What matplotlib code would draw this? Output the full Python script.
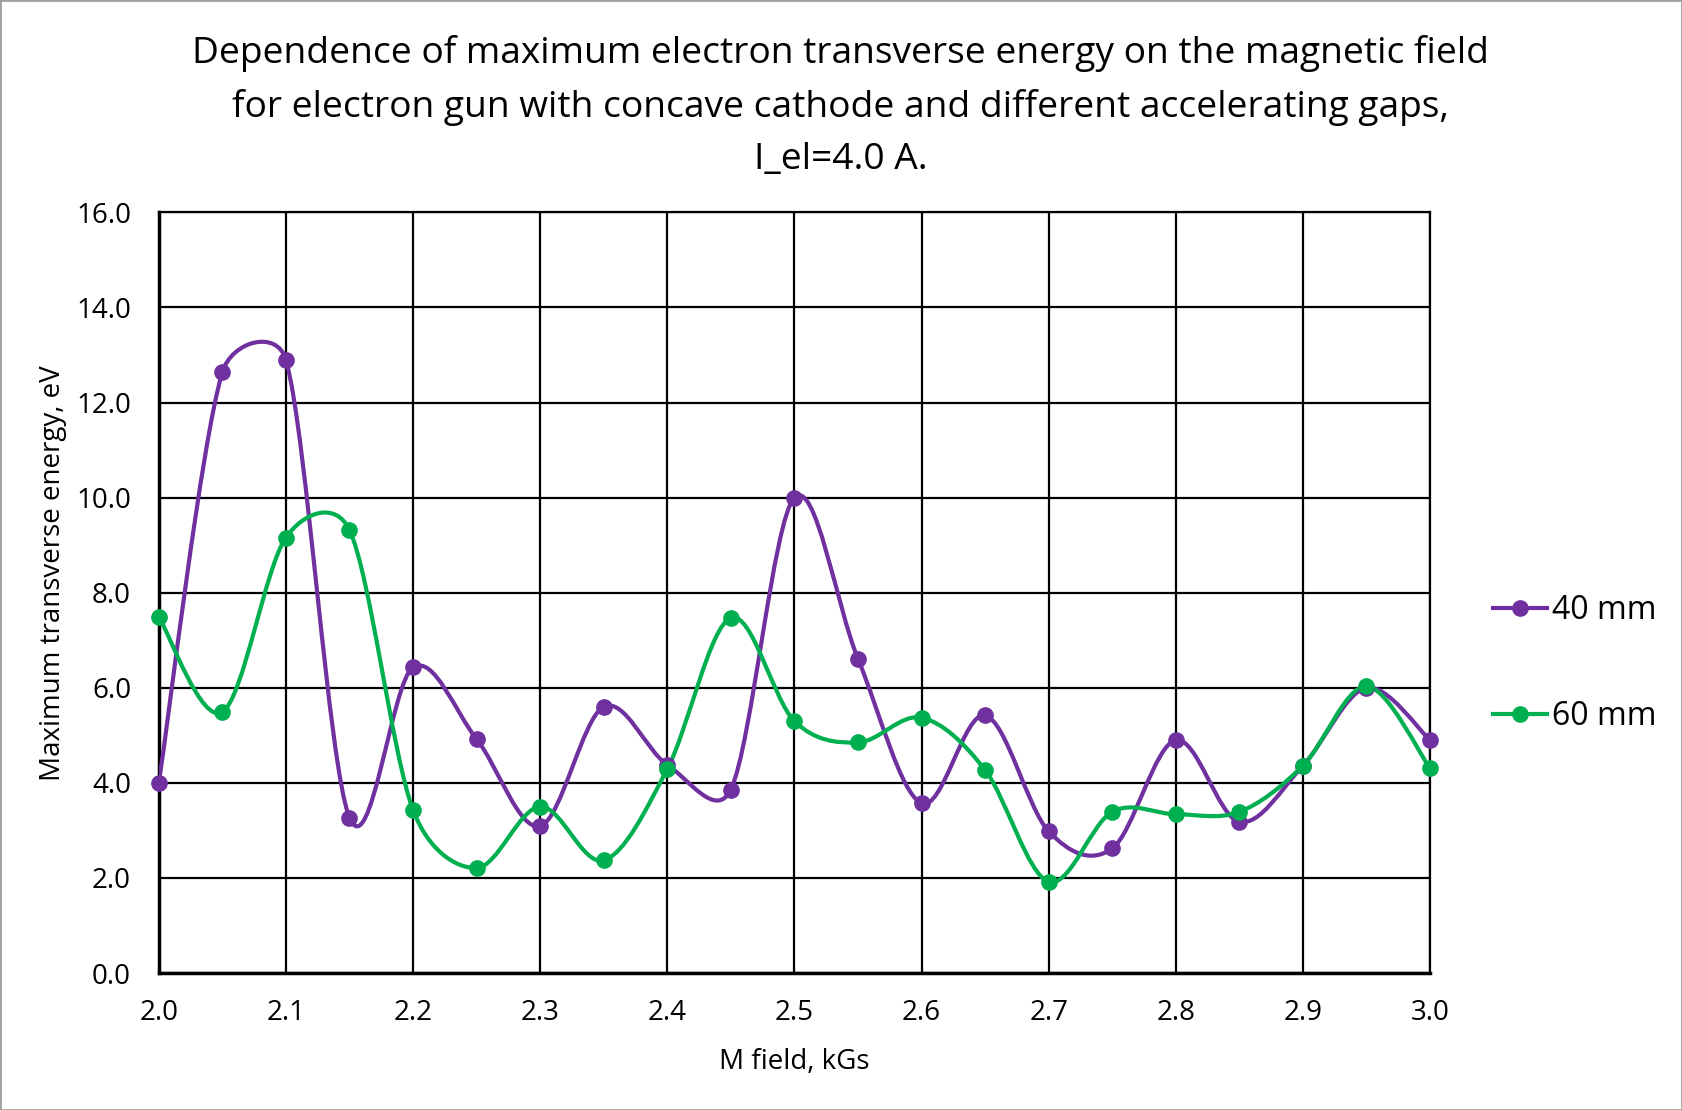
import matplotlib
matplotlib.use("Agg")
import numpy as np
import matplotlib.pyplot as plt
from matplotlib.path import Path
from matplotlib.patches import PathPatch, Rectangle
from matplotlib.lines import Line2D

plt.rcParams['font.family'] = ['Open Sans', 'DejaVu Sans']

# magnetic field, kGs
field = [2.00, 2.05, 2.10, 2.15, 2.20, 2.25, 2.30, 2.35, 2.40, 2.45, 2.50,
         2.55, 2.60, 2.65, 2.70, 2.75, 2.80, 2.85, 2.90, 2.95, 3.00]
# maximum transverse energy, eV
energy_40mm = [4.0, 12.64, 12.9, 3.27, 6.43, 4.92, 3.09, 5.6, 4.38, 3.86, 10.0,
               6.61, 3.57, 5.42, 2.98, 2.62, 4.9, 3.18, 4.36, 6.0, 4.9]
energy_60mm = [7.49, 5.49, 9.16, 9.32, 3.43, 2.21, 3.5, 2.37, 4.29, 7.47, 5.3,
               4.85, 5.37, 4.27, 1.92, 3.39, 3.34, 3.39, 4.36, 6.03, 4.31]

series = [("40 mm", energy_40mm, "#7030A0"),
          ("60 mm", energy_60mm, "#00B050")]


def smooth_path(ax, xs, ys):
    # smoothed line: cubic Bezier segments, control points built in screen space
    pts = ax.transData.transform(np.column_stack([xs, ys]))
    n = len(pts)

    def ctrl(i, j):
        # control point next to pts[i] on the segment towards pts[j]
        if j > i:
            d = (pts[min(i + 1, n - 1)] - pts[max(i - 1, 0)]) / 6.0
        else:
            d = (pts[max(i - 1, 0)] - pts[min(i + 1, n - 1)]) / 6.0
        lim = np.hypot(*(pts[j] - pts[i])) / 2.0
        ln = np.hypot(*d)
        if ln > lim:
            d = d * lim / ln
        return pts[i] + d

    verts = [pts[0]]
    codes = [Path.MOVETO]
    for i in range(n - 1):
        verts += [ctrl(i, i + 1), ctrl(i + 1, i), pts[i + 1]]
        codes += [Path.CURVE4] * 3
    verts = ax.transData.inverted().transform(np.array(verts))
    return Path(verts, codes)


fig = plt.figure(figsize=(16.82, 11.10), dpi=100)
ax = fig.add_axes([158.8 / 1682, 1 - 973 / 1110, (1430 - 158.8) / 1682, (973 - 212.4) / 1110])
ax.set_xlim(2.0, 3.0)
ax.set_ylim(0, 16)

handles = []
for name, vals, col in series:
    ax.add_patch(PathPatch(smooth_path(ax, field, vals), fill=False, edgecolor=col,
                           linewidth=3, zorder=3, capstyle='round', joinstyle='round'))
    ax.plot(field, vals, linestyle='none', marker='o', markersize=11,
            color=col, zorder=4, clip_on=False)
    handles.append(Line2D([], [], color=col, linewidth=3, marker='o', markersize=11))

ax.set_xticks([2.0 + 0.1 * i for i in range(11)])
ax.set_yticks([2.0 * i for i in range(9)])
ax.set_xticklabels([f"{2.0 + 0.1 * i:.1f}" for i in range(11)])
ax.set_yticklabels([f"{2.0 * i:.1f}" for i in range(9)])
ax.grid(True, color='black', linewidth=1.6)
ax.set_axisbelow(True)
for s in ax.spines.values():
    s.set_color('black')
    s.set_linewidth(1.6)
ax.spines['left'].set_linewidth(2.5)
ax.spines['bottom'].set_linewidth(2.5)
ax.tick_params(length=0, labelsize=20)
ax.tick_params(axis='y', pad=20)
ax.tick_params(axis='x', pad=19)

ax.set_xlabel("M field, kGs", fontsize=20, va='center')
ax.xaxis.set_label_coords(0.5, -0.117)
ax.set_ylabel("Maximum transverse energy, eV", fontsize=20, va='center')
ax.yaxis.set_label_coords(-0.083, 0.526)

fig.text(0.5, 1 - 107 / 1110,
         "Dependence of maximum electron transverse energy on the magnetic field\n"
         "for electron gun with concave cathode and different accelerating gaps,\n"
         "I_el=4.0 A.", fontsize=26.7, ha='center', va='center', linespacing=1.6)

fig.legend(handles=handles, labels=[s[0] for s in series],
           loc='center left', bbox_to_anchor=(1493 / 1682, 1 - 663.5 / 1110),
           frameon=False, fontsize=23, handlelength=1.7, labelspacing=2.3,
           handletextpad=0.15, borderpad=0, borderaxespad=0)

fig.patches.append(Rectangle((0, 0), 1, 1, transform=fig.transFigure, fill=False,
                             edgecolor='#A0A0A0', linewidth=2))

fig.savefig("out.png", dpi=100)
